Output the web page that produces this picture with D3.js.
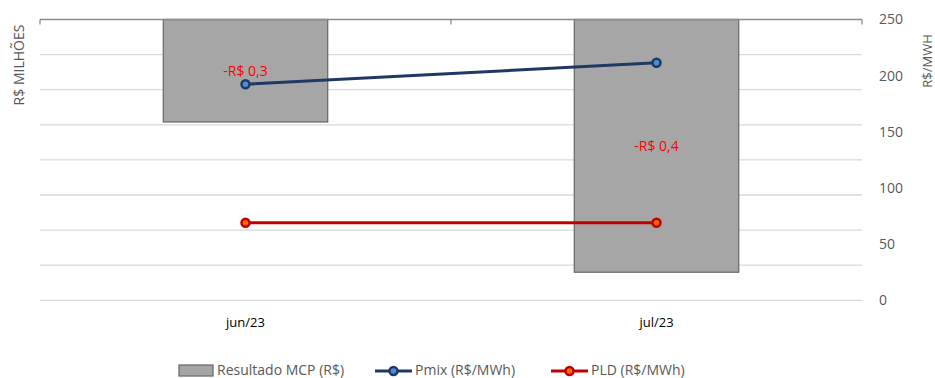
<!DOCTYPE html>
<html><head><meta charset="utf-8">
<script src="https://cdn.jsdelivr.net/npm/d3@7"></script>
<style>body{margin:0;background:#fff}svg{display:block}</style>
</head><body>
<svg id="c" width="935" height="378"></svg>
<script>
const categories = ["jun/23", "jul/23"];
const resultadoMCP = [-0.323, -0.430];           // R$ milhões
const resultadoLabels = ["-R$ 0,3", "-R$ 0,4"];
const pmix = [192.3, 211.5];                      // R$/MWh
const pld = [69.04, 69.04];                       // R$/MWh
const rightTicks = [0, 50, 100, 150, 200, 250];
const leftDomain = [-0.45, -0.25];
const leftTickCount = 8;

const svg = d3.select("#c");
const font = "Open Sans, sans-serif";
const L = 40, R = 862, T = 19.5, B = 300.3;

const x = d3.scaleBand().domain(categories).range([L, R]).paddingInner(0).paddingOuter(0);
const yL = d3.scaleLinear().domain(leftDomain).range([B, T]);
const yR = d3.scaleLinear().domain([0, 250]).range([B, T]);

// gridlines from left (hidden) axis
const step = (leftDomain[1] - leftDomain[0]) / leftTickCount;
const leftTicks = d3.range(leftTickCount + 1).map(i => leftDomain[0] + i * step);
svg.append("g").selectAll("line").data(leftTicks.slice(0, -1)).join("line")
  .attr("x1", L).attr("x2", R).attr("y1", d => yL(d)).attr("y2", d => yL(d))
  .attr("stroke", "#d9d9d9").attr("stroke-width", 1.3);

// bars (hang from top since axis max is below zero)
const bw = x.bandwidth() * 0.4;
svg.append("g").selectAll("rect").data(resultadoMCP).join("rect")
  .attr("x", (d, i) => x(categories[i]) + (x.bandwidth() - bw) / 2)
  .attr("y", yL(Math.min(0, leftDomain[1])))
  .attr("width", bw)
  .attr("height", d => yL(d) - yL(leftDomain[1]))
  .attr("fill", "#a6a6a6").attr("stroke", "#6e6e6e").attr("stroke-width", 1.3);

// top category axis line with tick marks at category boundaries
svg.append("line").attr("x1", L).attr("x2", R).attr("y1", T).attr("y2", T)
  .attr("stroke", "#8c8c8c").attr("stroke-width", 1.3);
const bounds = categories.map(c => x(c)).concat([R]);
svg.append("g").selectAll("line").data(bounds).join("line")
  .attr("x1", d => d).attr("x2", d => d).attr("y1", T).attr("y2", T + 5)
  .attr("stroke", "#8c8c8c").attr("stroke-width", 1.3);

// data labels
svg.append("g").selectAll("text").data(resultadoMCP).join("text")
  .attr("x", (d, i) => x(categories[i]) + x.bandwidth() / 2)
  .attr("y", d => (yL(leftDomain[1]) + yL(d)) / 2)
  .attr("dy", "0.35em").attr("text-anchor", "middle")
  .attr("font-family", font).attr("font-size", 14).attr("fill", "#ff0000")
  .text((d, i) => resultadoLabels[i]);

// lines
function series(vals, stroke, fill) {
  const line = d3.line().x((d, i) => x(categories[i]) + x.bandwidth() / 2).y(d => yR(d));
  svg.append("path").datum(vals).attr("d", line).attr("fill", "none")
    .attr("stroke", stroke).attr("stroke-width", 3);
  svg.append("g").selectAll("circle").data(vals).join("circle")
    .attr("cx", (d, i) => x(categories[i]) + x.bandwidth() / 2).attr("cy", d => yR(d))
    .attr("r", 4).attr("fill", fill).attr("stroke", stroke).attr("stroke-width", 2.5);
}
series(pmix, "#1f3864", "#4a90d9");
series(pld, "#c00000", "#ff6a00");

// right axis labels
svg.append("g").selectAll("text").data(rightTicks).join("text")
  .attr("x", 879).attr("y", d => yR(d)).attr("dy", "0.35em")
  .attr("font-family", font).attr("font-size", 14).attr("fill", "#595959")
  .text(d => d);

// category labels
svg.append("g").selectAll("text").data(categories).join("text")
  .attr("x", d => x(d) + x.bandwidth() / 2).attr("y", 322).attr("dy", "0.35em")
  .attr("text-anchor", "middle").attr("font-family", font).attr("font-size", 13).attr("fill", "#000")
  .text(d => d);

// axis titles
svg.append("text").attr("transform", "translate(24,65) rotate(-90)").attr("text-anchor", "middle")
  .attr("font-family", font).attr("font-size", 14).attr("fill", "#595959").text("R$ MILHÕES");
svg.append("text").attr("transform", "translate(932,61) rotate(-90)").attr("text-anchor", "middle")
  .attr("font-family", font).attr("font-size", 13).attr("fill", "#595959").text("R$/MWH");

// legend
const lg = svg.append("g").attr("font-family", font).attr("font-size", 14).attr("fill", "#595959");
lg.append("rect").attr("x", 179).attr("y", 365).attr("width", 34).attr("height", 11)
  .attr("fill", "#a6a6a6").attr("stroke", "#6e6e6e").attr("stroke-width", 1.3);
lg.append("text").attr("x", 217).attr("y", 370).attr("dy", "0.35em").text("Resultado MCP (R$)");
const legItems = [{x: 375, stroke: "#1f3864", fill: "#4a90d9", label: "Pmix (R$/MWh)"},
                  {x: 551, stroke: "#c00000", fill: "#ff6a00", label: "PLD (R$/MWh)"}];
legItems.forEach(it => {
  lg.append("line").attr("x1", it.x).attr("x2", it.x + 37).attr("y1", 371).attr("y2", 371)
    .attr("stroke", it.stroke).attr("stroke-width", 3);
  lg.append("circle").attr("cx", it.x + 18.5).attr("cy", 371).attr("r", 4)
    .attr("fill", it.fill).attr("stroke", it.stroke).attr("stroke-width", 2.5);
  lg.append("text").attr("x", it.x + 40).attr("y", 370).attr("dy", "0.35em").text(it.label);
});
</script>
</body></html>
